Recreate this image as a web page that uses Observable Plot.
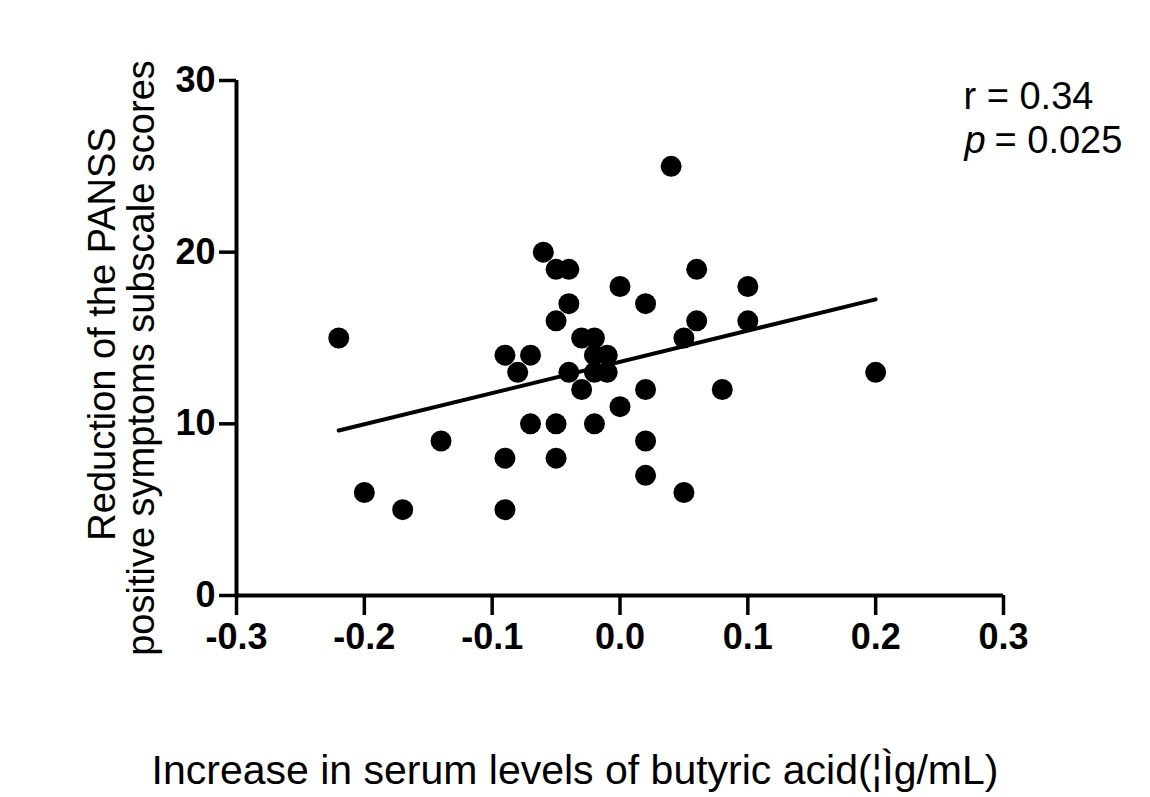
<!DOCTYPE html>
<html>
<head>
<meta charset="utf-8">
<script src="https://cdn.jsdelivr.net/npm/d3@7"></script>
<script src="https://cdn.jsdelivr.net/npm/@observablehq/plot@0.6"></script>
<style>
  html, body { margin: 0; padding: 0; background: #fff; }
  #chart svg { display: block; }
</style>
</head>
<body>
<div id="chart"></div>
<script>
// Increase in serum butyric acid (x) vs reduction of PANSS positive subscale (y)
const butyricIncrease = [
  -0.22, -0.20, -0.17, -0.14, -0.09, -0.09, -0.09, -0.08, -0.07, -0.07,
  -0.06, -0.05, -0.04, -0.05, -0.04, -0.04, -0.05, -0.05, -0.03, -0.03,
  -0.02, -0.02, -0.02, -0.01, -0.01, -0.02, 0.00, 0.00, 0.02, 0.02,
  0.02, 0.02, 0.04, 0.05, 0.05, 0.06, 0.06, 0.08, 0.10, 0.10, 0.20
];
const panssReduction = [
  15, 6, 5, 9, 14, 8, 5, 13, 14, 10,
  20, 19, 19, 16, 17, 13, 10, 8, 15, 12,
  15, 14, 13, 14, 13, 10, 18, 11, 17, 12,
  9, 7, 25, 15, 6, 19, 16, 12, 18, 16, 13
];
const xTicks = [-0.3, -0.2, -0.1, 0.0, 0.1, 0.2, 0.3];
const xTickLabels = ["-0.3", "-0.2", "-0.1", "0.0", "0.1", "0.2", "0.3"];
const yTicks = [0, 10, 20, 30];
const yTickLabels = ["0", "10", "20", "30"];
const xTitle = "Increase in serum levels of butyric acid(¦Ìg/mL)";
const yTitleLines = ["Reduction of the PANSS", "positive symptoms subscale scores"];
const statR = "r = 0.34";
const statPSymbol = "p";
const statPValue = "= 0.025";

const points = butyricIncrease.map((x, i) => ({x, y: panssReduction[i]}));
const font = "'Liberation Sans', Arial, Helvetica, sans-serif";

const chart = Plot.plot({
  width: 1150,
  height: 797,
  marginLeft: 236,
  marginRight: 147,
  marginTop: 80,
  marginBottom: 202,
  style: {background: "#fff", color: "#000", fontFamily: font},
  x: {domain: [-0.3, 0.3]},
  y: {domain: [0, 30]},
  marks: [
    Plot.ruleX([-0.3], {y1: 0, y2: 30, stroke: "#000", strokeWidth: 4}),
    Plot.ruleY([0], {x1: -0.3, x2: 0.3, stroke: "#000", strokeWidth: 4}),
    Plot.axisX({
      ticks: xTicks, tickSize: 20, tickPadding: 8, strokeWidth: 3.5,
      tickFormat: (d, i) => xTickLabels[i], fontSize: 36, fontWeight: "bold",
      fontFamily: font, label: null
    }),
    Plot.axisY({
      ticks: yTicks, tickSize: 17, tickPadding: 4, strokeWidth: 3.5,
      tickFormat: (d, i) => yTickLabels[i], fontSize: 36, fontWeight: "bold",
      fontFamily: font, label: null
    }),
    Plot.linearRegressionY(points, {x: "x", y: "y", ci: 0, stroke: "#000", strokeWidth: 4}),
    Plot.dot(points, {x: "x", y: "y", r: 10.5, fill: "#000", stroke: null}),
    // axis titles
    Plot.text([yTitleLines[0]], {frameAnchor: "left", rotate: -90, dx: -134, dy: -4,
      fontSize: 38, fontFamily: font, lineAnchor: "middle", textAnchor: "middle"}),
    Plot.text([yTitleLines[1]], {frameAnchor: "left", rotate: -90, dx: -95, dy: 20,
      fontSize: 38, fontFamily: font, lineAnchor: "middle", textAnchor: "middle"}),
    Plot.text([xTitle], {frameAnchor: "bottom", dx: -45, dy: 175,
      fontSize: 41, fontFamily: font, lineAnchor: "middle", textAnchor: "middle"}),
    // statistics annotation
    Plot.text([statR], {frameAnchor: "top-left", dx: 727, dy: 16,
      fontSize: 38, fontFamily: font, lineAnchor: "middle", textAnchor: "start"}),
    Plot.text([statPSymbol], {frameAnchor: "top-left", dx: 728, dy: 60,
      fontSize: 38, fontFamily: font, fontStyle: "italic", lineAnchor: "middle", textAnchor: "start"}),
    Plot.text([statPValue], {frameAnchor: "top-left", dx: 758, dy: 60,
      fontSize: 38, fontFamily: font, lineAnchor: "middle", textAnchor: "start"})
  ]
});
document.getElementById("chart").appendChild(chart);
</script>
</body>
</html>
